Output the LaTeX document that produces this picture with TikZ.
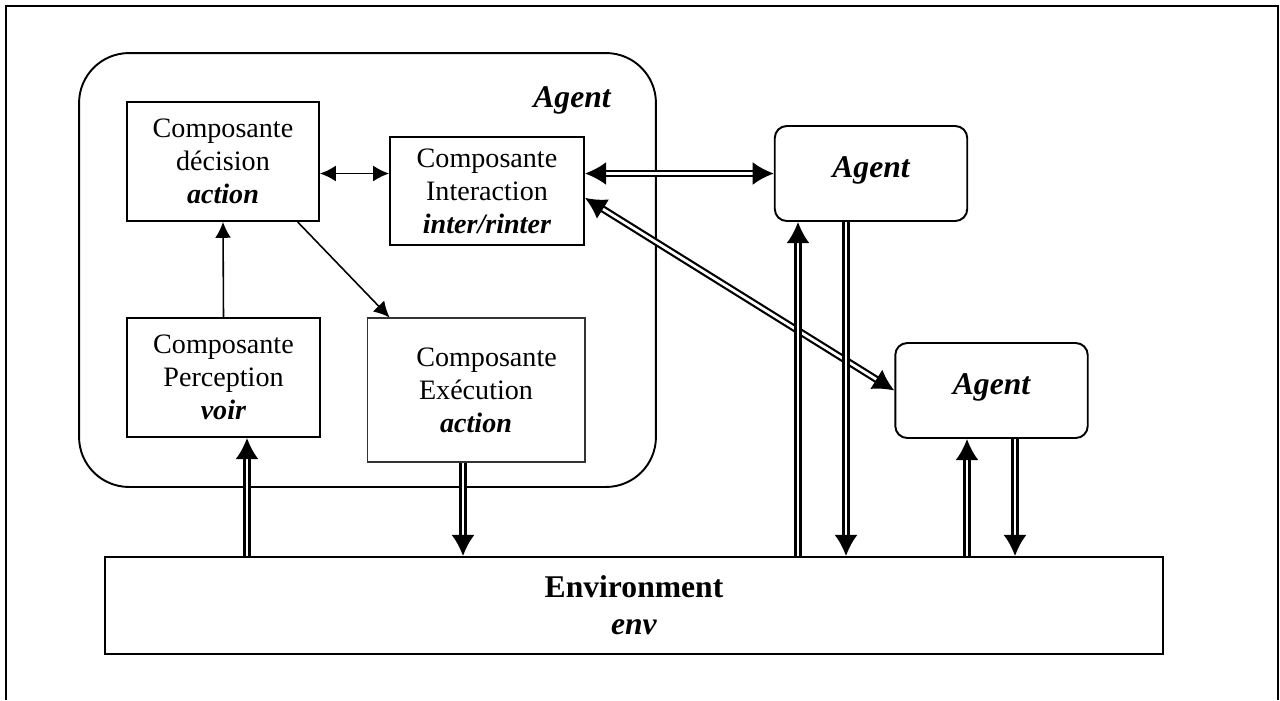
\documentclass[tikz,border=0pt]{standalone}
\usepackage{fontspec}
\setmainfont{Liberation Serif}
\usetikzlibrary{arrows.meta}

\begin{document}
\begin{tikzpicture}[x=0.02cm,y=-0.02cm]
\tikzset{comp/.style = {shape=rectangle,draw,line width=1.1pt,align=center,
font=\fontsize{16}{18.7}\selectfont,inner sep=0pt}}
\tikzset{agentbox/.style = {shape=rectangle,draw,rounded corners=0.24cm,line width=1.1pt,
font=\fontsize{18}{21}\selectfont\bfseries\itshape,minimum width=3.85cm,minimum height=1.9cm,text depth=7pt}}
\tikzset{edge/.style = {line width=0.9pt,> = {Latex[length=9pt,width=9pt]}}}
\tikzset{dedge/.style = {double,line width=1.25pt,double distance=1.6pt,> = {Latex[length=12pt,width=13pt]}}}
\useasboundingbox (0,0) rectangle (1280,700);
% frame
\draw[line width=1.1pt] (6,700) -- (6,6) -- (1278,6) -- (1278,700);
% vertices
\node[draw,line width=1.1pt,rounded corners=1cm,minimum width=11.54cm,minimum height=8.68cm] (ag) at (367.5,270) {};
\node[font=\fontsize{18}{21}\selectfont\bfseries\itshape] (agt) at (572,100) {Agent};
\node[comp,minimum width=3.84cm,minimum height=2.38cm] (dec) at (223,161.5) {Composante\\décision\\\textbf{\textit{action}}};
\node[comp,minimum width=3.88cm,minimum height=2.16cm] (int) at (487,191) {Composante\\Interaction\\\textbf{\textit{inter/rinter}}};
\node[comp,minimum width=3.86cm,minimum height=2.38cm] (per) at (223.5,377.5) {Composante\\Perception\\\textbf{\textit{voir}}};
\node[comp,line width=0.6pt,draw=black!80,minimum width=4.36cm,minimum height=2.88cm] (exe) at (476,390) {\ \ \ Composante\\Exécution\\\textbf{\textit{action}}};
\node[agentbox] (a1) at (871,173.5) {Agent};
\node[agentbox] (a2) at (991.5,390.5) {Agent};
\node[comp,minimum width=21.16cm,minimum height=1.94cm,font=\fontsize{18}{21}\selectfont] (env) at (634,605.5) {\textbf{Environment}\\\textbf{\textit{env}}};
\coordinate (xp) at (247,0);
\coordinate (xe) at (463,0);
\coordinate (xa) at (798,0);
\coordinate (xb) at (846,0);
\coordinate (xc) at (967,0);
\coordinate (xd) at (1015,0);
%edges
\draw[edge,->] (per.north) -- (dec.south);
\draw[edge,<->] (dec.east |- a1) -- (int.west |- a1);
\draw[edge,->] (dec.-39.6) -- (exe.140);
\draw[dedge,<->] (int.east |- a1) -- (a1.west);
\draw[dedge,<->] (int.-4) -- (a2.west);
\draw[dedge,->] (xp |- env.north) -- (xp |- per.south);
\draw[dedge,->] (xe |- exe.south) -- (xe |- env.north);
\draw[dedge,->] (xa |- env.north) -- (xa |- a1.south);
\draw[dedge,->] (xb |- a1.south) -- (xb |- env.north);
\draw[dedge,->] (xc |- env.north) -- (xc |- a2.south);
\draw[dedge,->] (xd |- a2.south) -- (xd |- env.north);
\end{tikzpicture}
\end{document}
